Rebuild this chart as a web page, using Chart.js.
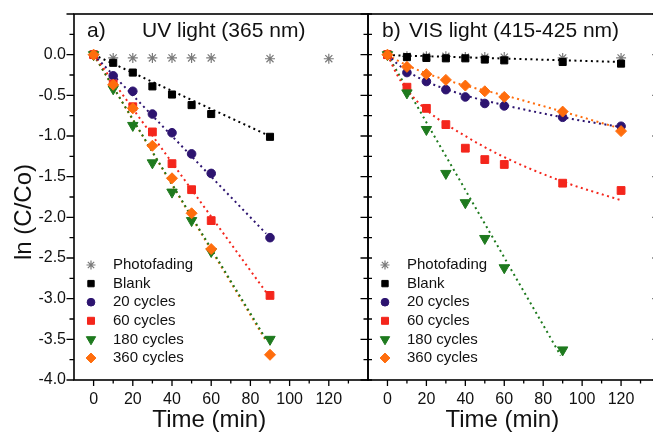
<!DOCTYPE html>
<html>
<head>
<meta charset="utf-8">
<script src="https://cdn.jsdelivr.net/npm/chart.js@4.4.0/dist/chart.umd.min.js"></script>
<style>
  html, body { margin: 0; padding: 0; background: #fff; overflow: hidden; }
  #wrap { position: relative; width: 653px; height: 435px; overflow: hidden; }
  canvas { position: absolute; top: 0; }
</style>
</head>
<body>
<div id="wrap">
  <canvas id="chartUV" width="372" height="435" style="left:0px"></canvas>
  <canvas id="chartVIS" width="330" height="435" style="left:331px"></canvas>
</div>
<script>
// ---- data ----
const seriesNames = ["Photofading", "Blank", "20 cycles", "60 cycles", "180 cycles", "360 cycles"];

// a) UV light
const timeUV = [0, 10, 20, 30, 40, 50, 60, 90];
const timePhotoUV = [0, 10, 20, 30, 40, 50, 60, 90, 120];
const photoUV = [0, -0.04, -0.04, -0.04, -0.04, -0.04, -0.04, -0.05, -0.05];
const blankUV = [0, -0.10, -0.22, -0.39, -0.49, -0.62, -0.73, -1.01];
const c20UV = [0, -0.26, -0.45, -0.73, -0.96, -1.22, -1.46, -2.25];
const c60UV = [0, -0.36, -0.64, -0.95, -1.34, -1.66, -2.04, -2.96];
const c180UV = [0, -0.42, -0.87, -1.33, -1.69, -2.04, -2.42, -3.50];
const c360UV = [0, -0.37, -0.66, -1.12, -1.52, -1.95, -2.39, -3.69];

const fitTimeUV = [0, 88];
const fitBlankUV = [0, -0.98];
const fit20UV = [0, -2.20];
const fit60UV = [0, -2.92];
const fit180UV = [0, -3.50];
const fit360UV = [0, -3.52];

// b) VIS light
const timeVIS = [0, 10, 20, 30, 40, 50, 60, 90, 120];
const time180VIS = [0, 10, 20, 30, 40, 50, 60, 90];
const photoVIS = [0, -0.02, -0.02, -0.02, -0.03, -0.03, -0.03, -0.04, -0.04];
const blankVIS = [0, -0.03, -0.04, -0.045, -0.045, -0.06, -0.07, -0.09, -0.11];
const c20VIS = [0, -0.22, -0.33, -0.43, -0.52, -0.60, -0.63, -0.77, -0.88];
const c60VIS = [0, -0.40, -0.66, -0.86, -1.15, -1.29, -1.35, -1.58, -1.67];
const c180VIS = [0, -0.47, -0.92, -1.46, -1.82, -2.26, -2.62, -3.63];
const c360VIS = [0, -0.15, -0.24, -0.31, -0.38, -0.45, -0.52, -0.70, -0.94];

const fitLineTimeVIS = [0, 120];
const fitBlankVIS = [-0.005, -0.09];
const fit180TimeVIS = [0, 89];
const fit180VIS = [0, -3.70];
const fitCurveTimeVIS = [0, 5, 10, 20, 40, 60, 90, 120];
const fit20VIS = [0, -0.11, -0.20, -0.33, -0.50, -0.62, -0.77, -0.89];
const fit60VIS = [0, -0.25, -0.43, -0.68, -1.00, -1.26, -1.56, -1.79];
const fit360VIS = [0, -0.07, -0.13, -0.23, -0.38, -0.50, -0.70, -0.91];

// axis ticks
const xTickLabels = [0, 20, 40, 60, 80, 100, 120];
const yTickLabels = [-4.0, -3.5, -3.0, -2.5, -2.0, -1.5, -1.0, -0.5, 0.0];

// ---- styles ----
const FONT = '"Liberation Sans", Arial, sans-serif';
const styles = [
  { color: "#7a7a7a", point: "star", radius: 5 },
  { color: "#000000", point: "rect", radius: 5 },
  { color: "#2d1470", point: "circle", radius: 4.3 },
  { color: "#f4261c", point: "rect", radius: 5.5 },
  { color: "#1e7a1e", point: "triangle", radius: 6, rotation: 180 },
  { color: "#ff6d0d", point: "rectRot", radius: 5.5 }
];

function pts(xs, ys) {
  return xs.map((x, i) => ({ x: x, y: ys[i] }));
}

function markerSet(i, xs, ys) {
  const s = styles[i];
  return {
    label: seriesNames[i],
    data: pts(xs, ys),
    showLine: false,
    pointStyle: s.point,
    pointRadius: s.radius,
    pointRotation: s.rotation || 0,
    backgroundColor: s.color,
    borderColor: s.color,
    pointBorderWidth: s.point === "star" ? 1.2 : 1,
    order: 6 - i,
    inLegend: true
  };
}

function fitSet(i, xs, ys) {
  return {
    label: seriesNames[i] + " fit",
    data: pts(xs, ys),
    showLine: true,
    pointRadius: 0,
    borderColor: styles[i].color,
    borderWidth: 2,
    borderDash: [2, 3.5],
    cubicInterpolationMode: "monotone",
    order: 20,
    inLegend: false
  };
}

/*************************************************
 * frame, minor ticks, titles, legend
 *************************************************/
const panelDecor = {
  id: "panelDecor",
  afterDraw(chart, args, o) {
    const { ctx, chartArea: a } = chart;
    const x = chart.scales.x, y = chart.scales.y;
    ctx.save();
    ctx.strokeStyle = "#000";
    ctx.lineWidth = 1.6;
    ctx.strokeRect(a.left, a.top, a.right - a.left, a.bottom - a.top);

    // bottom ticks, outward
    ctx.lineWidth = 1.3;
    ctx.beginPath();
    for (let t = 0; t < x.max; t += 10) {
      const px = x.getPixelForValue(t);
      const len = t % 20 === 0 ? 6 : 3.5;
      ctx.moveTo(px, a.bottom);
      ctx.lineTo(px, a.bottom + len);
    }
    // y ticks on both sides
    for (let v = y.min; v <= y.max + 1e-9; v += 0.25) {
      const py = y.getPixelForValue(v);
      const major = Math.abs(v * 2 - Math.round(v * 2)) < 1e-6;
      [["left", a.left, -1], ["right", a.right, 1]].forEach(([side, px, dir]) => {
        const mode = o[side];
        const len = major ? 7.5 : 4.5;
        if (mode === "out" || mode === "cross") { ctx.moveTo(px, py); ctx.lineTo(px + dir * len, py); }
        if (mode === "in" || mode === "cross") { ctx.moveTo(px, py); ctx.lineTo(px - dir * len, py); }
      });
    }
    ctx.stroke();

    ctx.fillStyle = "#111";
    ctx.textBaseline = "middle";
    ctx.textAlign = "left";
    ctx.font = "21px " + FONT;
    ctx.fillText(o.tag, a.left + o.tagDx, 31);
    ctx.fillText(o.title, a.left + o.titleDx, 31);

    // axis titles
    ctx.font = "24px " + FONT;
    ctx.textAlign = "center";
    ctx.fillText("Time (min)", x.getPixelForValue(59), 420);
    if (o.yTitle) {
      ctx.save();
      ctx.translate(24, 212);
      ctx.rotate(-Math.PI / 2);
      ctx.fillText(o.yTitle, 0, 0);
      ctx.restore();
    }

    // legend
    ctx.font = "15px " + FONT;
    ctx.textAlign = "left";
    let row = 0;
    chart.data.datasets.forEach(ds => {
      if (!ds.inLegend) return;
      const cy = 265 + row * 18.6;
      const cx = a.left + 17;
      ctx.fillStyle = ds.backgroundColor;
      ctx.strokeStyle = ds.borderColor;
      ctx.lineWidth = ds.pointBorderWidth;
      Chart.helpers.drawPoint(ctx, {
        pointStyle: ds.pointStyle,
        radius: ds.pointRadius * 0.9,
        rotation: ds.pointRotation,
        borderWidth: ds.pointBorderWidth
      }, cx, cy);
      ctx.fillStyle = "#111";
      ctx.fillText(ds.label, a.left + 39, cy);
      row++;
    });
    ctx.restore();
  }
};

function makeScales(showY, yWidth) {
  return {
    x: {
      type: "linear",
      min: -10,
      max: 140,
      afterBuildTicks: s => { s.ticks = xTickLabels.map(v => ({ value: v })); },
      afterFit: s => { s.height = 55; s.paddingLeft = 0; s.paddingRight = 0; },
      grid: { display: false, drawTicks: true, tickLength: 6 },
      border: { display: false },
      ticks: { color: "#111", font: { family: FONT, size: 16 }, padding: 4, maxRotation: 0 }
    },
    y: {
      type: "linear",
      min: -4,
      max: 0.5,
      afterBuildTicks: s => { s.ticks = yTickLabels.map(v => ({ value: v })); },
      afterFit: s => { s.width = yWidth; s.paddingTop = 0; s.paddingBottom = 0; },
      grid: { display: false, drawTicks: true, tickLength: 7 },
      border: { display: false },
      ticks: {
        display: showY,
        color: "#111",
        font: { family: FONT, size: 16 },
        padding: 1,
        callback: v => (Math.abs(v) < 1e-9 ? "0.0" : v.toFixed(1))
      }
    }
  };
}

function baseOptions(showY, yWidth, padRight, decor) {
  return {
    responsive: false,
    animation: false,
    layout: { autoPadding: false, padding: { left: 0, right: padRight, top: 14, bottom: 0 } },
    scales: makeScales(showY, yWidth),
    plugins: { legend: { display: false }, tooltip: { enabled: false }, panelDecor: decor }
  };
}

/*************************************************
 * a) UV light
 *************************************************/
new Chart(document.getElementById("chartUV"), {
  type: "scatter",
  data: {
    datasets: [
      markerSet(0, timePhotoUV, photoUV),
      markerSet(1, timeUV, blankUV),
      markerSet(2, timeUV, c20UV),
      markerSet(3, timeUV, c60UV),
      markerSet(4, timeUV, c180UV),
      markerSet(5, timeUV, c360UV),
      fitSet(1, fitTimeUV, fitBlankUV),
      fitSet(2, fitTimeUV, fit20UV),
      fitSet(3, fitTimeUV, fit60UV),
      fitSet(4, fitTimeUV, fit180UV),
      fitSet(5, fitTimeUV, fit360UV)
    ]
  },
  options: baseOptions(true, 74, 4, {
    tag: "a)", tagDx: 13, title: "UV light (365 nm)", titleDx: 68,
    left: "out", right: "cross", yTitle: "ln (C/Co)"
  }),
  plugins: [panelDecor]
});

/*************************************************
 * b) VIS light
 *************************************************/
new Chart(document.getElementById("chartVIS"), {
  type: "scatter",
  data: {
    datasets: [
      markerSet(0, timeVIS, photoVIS),
      markerSet(1, timeVIS, blankVIS),
      markerSet(2, timeVIS, c20VIS),
      markerSet(3, timeVIS, c60VIS),
      markerSet(4, time180VIS, c180VIS),
      markerSet(5, timeVIS, c360VIS),
      fitSet(1, fitLineTimeVIS, fitBlankVIS),
      fitSet(2, fitCurveTimeVIS, fit20VIS),
      fitSet(3, fitCurveTimeVIS, fit60VIS),
      fitSet(4, fit180TimeVIS, fit180VIS),
      fitSet(5, fitCurveTimeVIS, fit360VIS)
    ]
  },
  options: baseOptions(false, 37, 1, {
    tag: "b)", tagDx: 14, title: "VIS light (415-425 nm)", titleDx: 41,
    left: "none", right: "in", yTitle: null
  }),
  plugins: [panelDecor]
});
</script>
</body>
</html>
